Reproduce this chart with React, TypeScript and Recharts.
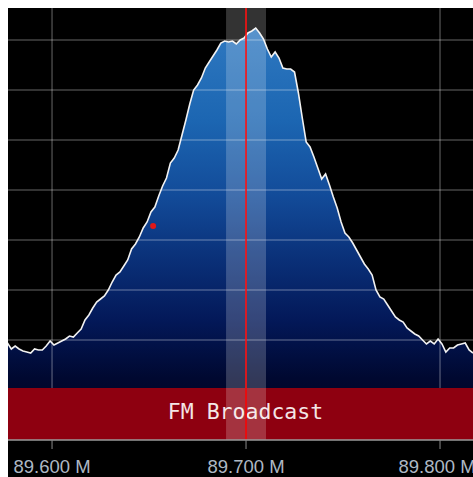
import {
  ComposedChart,
  Area,
  XAxis,
  YAxis,
  ReferenceLine,
  ReferenceArea,
  ReferenceDot,
} from "recharts";

// spectrum bins (MHz) and measured level per bin (dB)
const FREQ_START = 89.577;
const BIN_WIDTH = 0.002;
const LEVELS_DB = [
  -100.6, -101.8, -101.2, -101.8, -102.2, -102.4, -102.6, -101.8, -102.0, -102.0,
  -101.2, -100.2, -101.0, -100.6, -100.2, -99.8, -99.2, -99.4, -98.6, -97.8,
  -96.0, -95.0, -93.6, -92.4, -91.8, -91.2, -90.0, -88.4, -87.0, -86.4,
  -85.2, -84.0, -81.8, -80.8, -79.4, -77.6, -76.4, -74.4, -73.4, -71.2,
  -69.2, -67.6, -64.6, -63.6, -62.0, -59.0, -56.0, -52.8, -50.0, -49.0,
  -47.6, -45.6, -44.4, -43.2, -42.0, -40.6, -40.2, -40.4, -40.2, -40.8,
  -40.0, -39.6, -38.6, -38.2, -37.6, -38.6, -39.8, -41.8, -43.4, -42.4,
  -43.6, -45.6, -45.8, -45.8, -46.4, -50.6, -55.6, -60.4, -61.4, -63.4,
  -65.6, -67.8, -66.8, -69.0, -71.4, -73.6, -76.4, -78.6, -79.4, -80.6,
  -82.0, -83.4, -84.8, -85.8, -87.0, -90.0, -91.4, -91.8, -93.0, -94.2,
  -95.4, -96.0, -96.4, -97.6, -98.2, -98.8, -99.2, -100.0, -100.8, -100.2,
  -100.8, -99.8, -100.8, -102.4, -101.6, -101.6, -101.0, -100.8, -100.6, -102.0,
  -102.6,
];

const X_DOMAIN = [89.5773, 89.817];
const Y_DOMAIN = [-120, -33.6];
const FREQ_TICKS = [89.6, 89.7, 89.8];
const LEVEL_GRID = [-40, -50, -60, -70, -80, -90, -100, -110];

const BAND_NAME = "FM Broadcast";
const BAND_TOP_DB = -109.6;
const TUNED_MHZ = 89.7;
const FILTER_LO = 89.6897;
const FILTER_HI = 89.7103;
const MARKER = { f: 89.6521, db: -77.2 };

const data = LEVELS_DB.map((db, i) => ({
  f: +(FREQ_START + i * BIN_WIDTH).toFixed(4),
  db,
}));

const BandLabel = (props: any) => {
  const vb = props.viewBox || {};
  return (
    <text
      x={vb.x + vb.width / 2 + 5}
      y={vb.y + vb.height / 2 - 3}
      textAnchor="middle"
      dominantBaseline="central"
      fill="#f4e6e6"
      fontSize={21.5}
      fontFamily="'DejaVu Sans Mono', monospace"
    >
      {BAND_NAME}
    </text>
  );
};

export default function App() {
  return (
    <div
      style={{
        position: "fixed",
        left: 8,
        top: 8,
        width: 465,
        height: 469,
        background: "#000",
        overflow: "hidden",
      }}
    >
      <ComposedChart
        width={465}
        height={469}
        data={data}
        margin={{ top: 0, right: 0, bottom: 0, left: 0 }}
      >
        <defs>
          <linearGradient id="specFill" gradientUnits="userSpaceOnUse" x1="0" y1="22" x2="0" y2="432">
            <stop offset="0" stopColor="#2e78c0" />
            <stop offset="0.22" stopColor="#1c66b2" />
            <stop offset="0.41" stopColor="#124a98" />
            <stop offset="0.56" stopColor="#0a3078" />
            <stop offset="0.71" stopColor="#031858" />
            <stop offset="0.85" stopColor="#000830" />
            <stop offset="1" stopColor="#00001c" />
          </linearGradient>
        </defs>
        <XAxis
          dataKey="f"
          type="number"
          domain={X_DOMAIN}
          allowDataOverflow
          ticks={FREQ_TICKS}
          tickFormatter={(v: number) => `${v.toFixed(3)} M`}
          height={37}
          axisLine={{ stroke: "#9a9a9a", strokeWidth: 1.5 }}
          tickLine={{ stroke: "#8a8a8a" }}
          tickSize={9}
          tickMargin={11}
          tick={{ fill: "#aeb8c4", fontSize: 18.5, fontFamily: "'Liberation Sans', Arial, sans-serif" }}
        />
        <YAxis type="number" domain={Y_DOMAIN} allowDataOverflow hide />
        <Area
          type="linear"
          dataKey="db"
          baseValue={-120}
          stroke="#f2f2f2"
          strokeWidth={1.6}
          fill="url(#specFill)"
          fillOpacity={1}
          isAnimationActive={false}
          zIndex={100}
        />
        {LEVEL_GRID.map((v) => (
          <ReferenceLine
            key={`h${v}`}
            y={v}
            stroke="rgba(255,255,255,0.27)"
            strokeWidth={1.5}
            zIndex={150}
          />
        ))}
        {FREQ_TICKS.map((v) => (
          <ReferenceLine
            key={`v${v}`}
            x={v}
            stroke="rgba(255,255,255,0.27)"
            strokeWidth={1.5}
            zIndex={150}
          />
        ))}
        <ReferenceArea
          x1={X_DOMAIN[0]}
          x2={X_DOMAIN[1]}
          y1={Y_DOMAIN[0]}
          y2={BAND_TOP_DB}
          fill="#8e0010"
          fillOpacity={1}
          stroke="none"
          label={<BandLabel />}
          zIndex={200}
        />
        <ReferenceArea
          x1={FILTER_LO}
          x2={FILTER_HI}
          y1={Y_DOMAIN[0]}
          y2={Y_DOMAIN[1]}
          fill="#ffffff"
          fillOpacity={0.2}
          stroke="none"
          zIndex={250}
        />
        <ReferenceLine x={TUNED_MHZ} stroke="#ff0000" strokeWidth={1.5} zIndex={300} />
        <ReferenceDot
          x={MARKER.f}
          y={MARKER.db}
          r={3}
          fill="#e01818"
          stroke="none"
          zIndex={350}
        />
      </ComposedChart>
    </div>
  );
}
